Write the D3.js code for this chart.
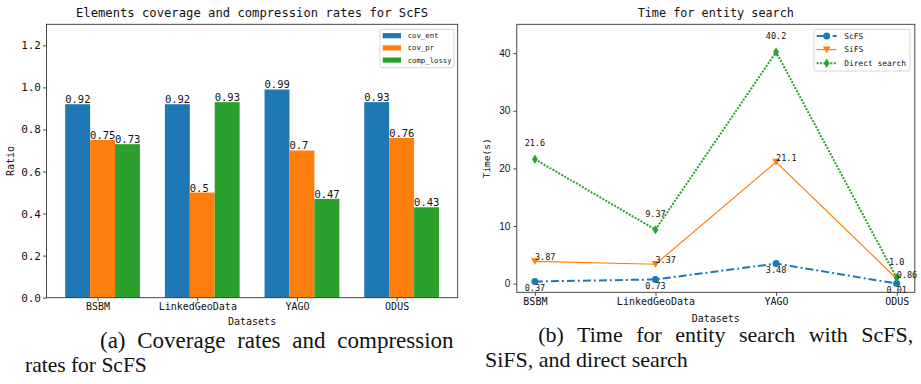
<!DOCTYPE html>
<html>
<head>
<meta charset="utf-8">
<script src="https://cdn.jsdelivr.net/npm/d3@7"></script>
<style>
  html, body { margin: 0; padding: 0; background: #fff; }
  svg { display: block; }
  .mono { font-family: "DejaVu Sans Mono", monospace; fill: #111; }
  .cap { font-family: "Liberation Serif", "Times New Roman", serif; fill: #111; }
</style>
</head>
<body>
<svg id="fig" width="921" height="384"></svg>
<script>
// ---- data ----
const DATASETS = ["BSBM", "LinkedGeoData", "YAGO", "ODUS"];
const BAR_SERIES = ["cov_ent", "cov_pr", "comp_lossy"];
const COV_ENT = [0.92, 0.92, 0.99, 0.93];
const COV_PR = [0.75, 0.5, 0.7, 0.76];
const COMP_LOSSY = [0.73, 0.93, 0.47, 0.43];
const RATIO_TICKS = [0, 0.2, 0.4, 0.6, 0.8, 1.0, 1.2];

const LINE_SERIES = ["ScFS", "SiFS", "Direct search"];
const T_SCFS = [0.37, 0.73, 3.48, 0.01];
const T_SIFS = [3.87, 3.37, 21.1, 0.86];
const T_DIRECT = [21.6, 9.37, 40.2, 1.0];
const TIME_TICKS = [0, 10, 20, 30, 40];

const C_BLUE = "#1f77b4", C_ORANGE = "#ff7f0e", C_GREEN = "#2ca02c";

// python-ish number printing (1.0 stays "1.0")
const pyStr = (v) => Number.isInteger(v) ? v.toFixed(1) : String(v);

const svg = d3.select("#fig");
svg.append("rect").attr("width", 921).attr("height", 384).attr("fill", "#fff");

// ================= (a) grouped bars =================
{
  const L = 46.5, R = 457.7, T = 24.3, B = 297.7;
  const x = d3.scaleLinear().domain([-0.5125, 3.6125]).range([L, R]);
  const y = d3.scaleLinear().domain([0, 1.3]).range([B, T]);
  const g = svg.append("g");
  const bw = 0.25;
  const offs = [-0.2, 0.05, 0.3];
  const cols = [C_BLUE, C_ORANGE, C_GREEN];
  const vals = [COV_ENT, COV_PR, COMP_LOSSY];

  vals.forEach((arr, si) => {
    g.append("g").selectAll("rect").data(arr).join("rect")
      .attr("x", (d, i) => x(i + offs[si] - bw / 2))
      .attr("width", x(bw) - x(0))
      .attr("y", (d) => y(d))
      .attr("height", (d) => y(0) - y(d))
      .attr("fill", cols[si]);
    g.append("g").selectAll("text").data(arr).join("text")
      .attr("class", "mono")
      .attr("x", (d, i) => x(i + offs[si] - bw / 2))
      .attr("y", (d) => y(d) - 1)
      .style("font-size", "10.5px")
      .text((d) => pyStr(d));
  });

  // axes
  const ax = g.append("g").attr("transform", `translate(0,${B})`)
    .call(d3.axisBottom(x).tickValues(d3.range(DATASETS.length))
      .tickFormat((i) => DATASETS[i]).tickSize(3.5).tickPadding(2));
  const ay = g.append("g").attr("transform", `translate(${L},0)`)
    .call(d3.axisLeft(y).tickValues(RATIO_TICKS).tickFormat(d3.format(".1f"))
      .tickSize(3.5).tickPadding(2));
  [ax, ay].forEach((a) => {
    a.select(".domain").remove();
    a.selectAll("line").attr("stroke", "#222").attr("stroke-width", 0.8);
    a.selectAll("text").attr("class", "mono").attr("fill", "#111")
      .style("font-size", "10px");
  });
  ay.selectAll("text").style("font-size", "11px");
  g.append("rect").attr("x", L).attr("y", T).attr("width", R - L).attr("height", B - T)
    .attr("fill", "none").attr("stroke", "#333").attr("stroke-width", 0.9);

  g.append("text").attr("class", "mono").attr("x", (L + R) / 2).attr("y", 17.3)
    .attr("text-anchor", "middle").style("font-size", "12.2px")
    .text("Elements coverage and compression rates for ScFS");
  g.append("text").attr("class", "mono").attr("x", (L + R) / 2).attr("y", 324.5)
    .attr("text-anchor", "middle").style("font-size", "10px").text("Datasets");
  g.append("text").attr("class", "mono")
    .attr("transform", `translate(13.5,${(T + B) / 2}) rotate(-90)`)
    .attr("text-anchor", "middle").style("font-size", "10px").text("Ratio");

  // legend
  const lg = g.append("g");
  lg.append("rect").attr("x", 380).attr("y", 29.3).attr("width", 74).attr("height", 38.4)
    .attr("rx", 2).attr("fill", "#fff").attr("stroke", "#ccc").attr("stroke-width", 0.8);
  BAR_SERIES.forEach((s, i) => {
    const cy = 35.7 + i * 12.2;
    lg.append("rect").attr("x", 382.7).attr("y", cy - 2.6).attr("width", 18.3)
      .attr("height", 5.2).attr("fill", cols[i]);
    lg.append("text").attr("class", "mono").attr("x", 407.7).attr("y", cy + 2.5)
      .style("font-size", "7.3px").text(s);
  });
}

// ================= (b) lines =================
{
  const L = 516.8, R = 914.8, T = 24.3, B = 292.3;
  const x = d3.scaleLinear().domain([-0.15, 3.15]).range([L, R]);
  const y = d3.scaleLinear().domain([-1.5, 45]).range([B, T]);
  const g = svg.append("g");

  const axB = g.append("g").attr("transform", `translate(0,${B})`)
    .call(d3.axisBottom(x).tickValues(d3.range(DATASETS.length))
      .tickFormat((i) => DATASETS[i]).tickSize(3.5).tickPadding(2));
  const axL = g.append("g").attr("transform", `translate(${L},0)`)
    .call(d3.axisLeft(y).tickValues(TIME_TICKS).tickSize(3.5).tickPadding(3));
  [axB, axL].forEach((a) => {
    a.select(".domain").remove();
    a.selectAll("line").attr("stroke", "#222").attr("stroke-width", 0.8);
    a.selectAll("text").attr("fill", "#111");
  });
  axB.selectAll("text").attr("class", "mono").style("font-size", "10px");
  axL.selectAll("text").style("font-family", "'Liberation Sans', sans-serif")
    .style("font-size", "10px");

  const line = d3.line().x((d, i) => x(i)).y((d) => y(d));
  const series = [
    { name: "ScFS", v: T_SCFS, c: C_BLUE, w: 2, dash: "8,3,2,3", mk: "circle" },
    { name: "SiFS", v: T_SIFS, c: C_ORANGE, w: 1.2, dash: null, mk: "tri" },
    { name: "Direct search", v: T_DIRECT, c: C_GREEN, w: 2, dash: "2,1.4", mk: "dia" },
  ];
  function marker(sel, mk, c) {
    if (mk === "circle") sel.append("circle").attr("r", 3.5).attr("fill", c);
    else if (mk === "tri") sel.append("path").attr("d", "M-3.8,-3.2L3.8,-3.2L0,3.6Z").attr("fill", c);
    else sel.append("path").attr("d", "M0,-4.6L2.9,0L0,4.6L-2.9,0Z").attr("fill", c);
  }
  series.forEach((s) => {
    g.append("path").datum(s.v).attr("d", line).attr("fill", "none")
      .attr("stroke", s.c).attr("stroke-width", s.w)
      .attr("stroke-dasharray", s.dash);
    s.v.forEach((d, i) => {
      const m = g.append("g").attr("transform", `translate(${x(i)},${y(d)})`);
      marker(m, s.mk, s.c);
    });
  });

  // annotations
  const ann = g.append("g").attr("class", "mono").style("font-size", "8.5px");
  T_SCFS.forEach((d, i) => ann.append("text").attr("x", x(i)).attr("y", y(d) + 9.5)
    .attr("text-anchor", "middle").text(pyStr(d)));
  T_SIFS.forEach((d, i) => ann.append("text").attr("x", x(i)).attr("y", y(d) - 1)
    .text(pyStr(d)));
  T_DIRECT.forEach((d, i) => ann.append("text").attr("x", x(i)).attr("y", y(d) - 12.7)
    .attr("text-anchor", "middle").text(pyStr(d)));

  g.append("rect").attr("x", L).attr("y", T).attr("width", R - L).attr("height", B - T)
    .attr("fill", "none").attr("stroke", "#333").attr("stroke-width", 0.9);

  g.append("text").attr("class", "mono").attr("x", (L + R) / 2).attr("y", 16.7)
    .attr("text-anchor", "middle").style("font-size", "11.8px").text("Time for entity search");
  g.append("text").attr("class", "mono").attr("x", (L + R) / 2).attr("y", 321.5)
    .attr("text-anchor", "middle").style("font-size", "10px").text("Datasets");
  g.append("text").attr("class", "mono")
    .attr("transform", `translate(489.5,${(T + B) / 2}) rotate(-90)`)
    .attr("text-anchor", "middle").style("font-size", "9.5px").text("Time(s)");

  // legend
  const lg = g.append("g");
  lg.append("rect").attr("x", 814).attr("y", 29.3).attr("width", 96).attr("height", 41.7)
    .attr("rx", 2).attr("fill", "#fff").attr("stroke", "#ccc").attr("stroke-width", 0.8);
  series.forEach((s, i) => {
    const cy = 36 + i * 13.6;
    lg.append("line").attr("x1", 816.7).attr("x2", 836.7).attr("y1", cy).attr("y2", cy)
      .attr("stroke", s.c).attr("stroke-width", s.w).attr("stroke-dasharray", s.dash);
    marker(lg.append("g").attr("transform", `translate(826.7,${cy})`), s.mk, s.c);
    lg.append("text").attr("class", "mono").attr("x", 844.3).attr("y", cy + 2.8)
      .style("font-size", "7.9px").text(s.name);
  });
}

// ================= captions =================
const caps = [
  { x: 100, y: 347.5, fs: 23, ws: 6, t: "(a) Coverage rates and compression" },
  { x: 25, y: 372, fs: 21.5, ws: 0, t: "rates for ScFS" },
  { x: 538.3, y: 342, fs: 22, ws: 8, t: "(b) Time for entity search with ScFS," },
  { x: 485, y: 367, fs: 22, ws: 0, t: "SiFS, and direct search" },
];
svg.append("g").selectAll("text").data(caps).join("text")
  .attr("class", "cap").attr("x", (d) => d.x).attr("y", (d) => d.y)
  .style("font-size", (d) => d.fs + "px")
  .style("word-spacing", (d) => d.ws + "px").text((d) => d.t);
</script>
</body>
</html>
